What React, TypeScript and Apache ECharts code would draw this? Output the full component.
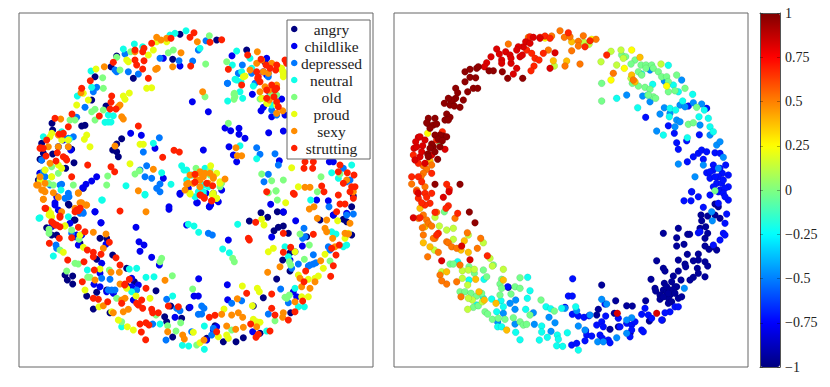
import React, { useEffect, useRef } from "react";
import * as echarts from "echarts";

type P = number[];
const lower = (pts: P[]) => pts.map((p) => [p[0], p[1] + 570, ...p.slice(2)]);

const emotions = ["angry", "childlike", "depressed", "neutral", "old", "proud", "sexy", "strutting"];
const emotionColors = ["#000080", "#0000f0", "#0078ff", "#10ffe8", "#80ff80", "#e8ff10", "#ff8c00", "#ff2000"];
const colorbarTicks = [-1, -0.75, -0.5, -0.25, 0, 0.25, 0.5, 0.75, 1];
const jetColors = ["#000080", "#0000ff", "#0080ff", "#00ffff", "#80ff80", "#ffff00", "#ff8000", "#ff0000", "#800000"];

const angry: P[] = [
  [540,103],[650,120],[350,168],[333,200],[518,178],[400,235],[285,230],[275,300],[318,318],[245,378],[255,376],[365,416],[350,432],[338,450],[350,455],[355,470],[222,488],[197,505],[156,370],[130,460],[158,462],[740,150],[795,187],[158,390],[120,478],[250,565],
  [125,480],[120,520],[115,540],[207,615],[225,660],[125,430],[215,448],
  ...lower([[1060,18],[1055,50],[1030,88],[1040,95],[1055,135],[1000,75],[960,90],[205,42],[222,90],[155,135],[240,160],[300,145],[320,145],[783,68],[803,82],[832,65],[850,67],[748,93],[850,108],[835,112],[822,122],[865,130],[920,140],[848,210],[870,188],[870,243],[830,267],[195,255],[202,270],[218,258],[218,282],[260,318],[290,307],[320,300],[280,357],[380,235],[338,195],[290,208],[468,302],[512,348],[567,353],[494,380],[500,395],[545,385],[330,368],[518,441],[645,407],[670,455],[708,455],[730,443],[790,323],[872,368],[760,348],[780,430],[620,445],[403,275],[380,287],[140,113],[170,135]]),
];
const childlike: P[] = [
  [540,198],[490,175],[577,305],[625,335],[392,400],[424,406],[465,445],[610,450],[675,384],[692,392],[717,385],[717,403],[735,415],[687,440],[700,465],[710,485],[806,398],[850,393],[838,482],[696,167],[757,283],[790,322],[783,332],[815,350],[845,297],[855,345],[800,225],[290,530],[275,543],[258,553],[248,563],[212,450],[120,520],[988,485],[1000,485],[540,583],[665,570],[490,535],[190,420],[175,440],
  [628,620],[592,608],[655,605],[565,565],[165,608],[170,590],[285,635],[303,668],[810,280],[825,288],[790,215],[800,175],
  ...lower([[285,65],[303,98],[408,112],[417,155],[432,165],[420,184],[455,202],[478,225],[507,50],[507,58],[560,105],[685,150],[596,266],[682,284],[582,318],[595,318],[683,329],[570,352],[525,382],[540,10],[590,38],[628,50],[632,45],[618,10],[640,10],[812,43],[850,65],[887,92],[815,141],[907,168],[885,185],[870,210],[950,30],[985,32],[1000,75],[1040,70],[880,305],[890,320],[318,163],[210,100],[155,110],[165,45],[235,165],[230,135],[305,220],[300,250],[282,283],[320,305],[340,310],[395,265],[415,285],[400,330],[650,410],[640,420],[620,450],[758,425],[225,140],[175,60],[245,135],[300,290],[395,290]]),
];
const depressed: P[] = [
  [375,162],[385,215],[595,150],[578,183],[537,182],[480,175],[345,210],[350,215],[415,222],[280,275],[290,262],[255,322],[230,352],[205,415],[190,415],[175,440],[205,440],[430,456],[478,413],[440,497],[420,510],[435,530],[455,535],[480,552],[470,565],[618,122],[682,250],[755,220],[715,220],[765,250],[770,443],[780,463],[825,461],[835,495],[805,523],[792,545],[1040,545],[1050,540],[150,555],[185,553],[125,480],[135,530],[805,230],[830,345],[815,330],[1030,505],
  [180,555],[205,580],[220,410],[130,515],[250,640],[195,595],[727,195],[717,220],[683,250],[805,220],
  ...lower([[207,20],[480,5],[248,65],[168,165],[170,175],[305,265],[330,268],[345,300],[325,300],[335,300],[500,328],[540,362],[530,355],[605,348],[595,373],[605,372],[725,332],[695,340],[625,130],[637,135],[912,115],[908,145],[915,140],[940,194],[930,225],[940,222],[948,218],[895,222],[875,235],[842,297],[865,338],[805,372],[987,50],[985,170],[990,180],[1040,75],[1060,72],[498,450],[635,435],[640,415],[575,425],[458,402],[612,355],[925,228],[240,70],[215,130],[410,300]]),
];
const neutral: P[] = [
  [558,92],[525,100],[510,105],[370,147],[403,132],[428,140],[600,145],[710,153],[697,195],[273,213],[232,288],[275,262],[315,367],[325,366],[333,366],[340,347],[325,345],[130,410],[208,418],[185,395],[460,430],[545,497],[560,510],[485,518],[513,553],[378,557],[435,583],[600,570],[610,555],[720,275],[683,303],[728,295],[710,240],[720,437],[770,476],[725,215],[760,258],[1055,495],[995,518],[1015,535],[615,505],[560,540],[575,525],
  [552,510],[595,575],[600,560],[610,575],[585,590],[610,585],[625,560],[120,530],[117,655],[307,600],[205,420],[183,570],[205,650],[750,175],[755,205],[705,238],[723,245],[785,295],[815,315],
  ...lower([[305,30],[435,15],[120,83],[160,198],[262,240],[388,237],[410,235],[438,262],[462,260],[518,318],[480,402],[613,408],[547,466],[566,468],[613,478],[800,423],[565,103],[582,108],[596,127],[713,103],[668,177],[688,188],[855,170],[865,200],[932,30],[995,125],[1008,132],[885,295],[895,350],[913,350],[395,305],[365,410],[1030,170],[1040,165]]),
];
const old: P[] = [
  [628,107],[617,192],[520,150],[505,158],[392,155],[350,172],[360,210],[308,233],[310,265],[615,290],[702,283],[702,298],[680,185],[685,370],[780,297],[812,285],[225,360],[210,360],[275,335],[285,328],[310,330],[285,360],[175,520],[155,500],[405,522],[418,512],[323,528],[320,555],[630,510],[660,560],[785,522],[815,542],[850,540],[828,572],[963,530],[952,575],[1020,522],
  [588,505],[630,525],[665,550],[155,530],[160,555],[145,550],[135,510],[220,555],[703,280],[705,290],[830,285],
  ...lower([[147,118],[147,130],[215,120],[237,148],[180,180],[225,220],[235,222],[200,243],[263,262],[270,262],[328,240],[517,257],[578,297],[350,325],[485,205],[480,215],[698,205],[703,215],[542,398],[503,407],[528,423],[590,465],[468,375],[900,132],[928,165],[913,208],[990,213],[868,215],[872,225],[868,315],[860,325],[855,322],[825,392],[695,420],[805,8],[828,3],[832,30],[365,395]]),
];
const proud: P[] = [
  [500,125],[470,125],[445,165],[460,150],[440,265],[455,263],[380,180],[385,185],[370,288],[375,298],[388,279],[288,207],[250,280],[265,300],[230,315],[260,405],[253,418],[270,440],[420,433],[430,433],[390,491],[875,503],[895,560],[850,215],[735,228],[845,205],[800,310],[785,295],[650,520],[155,400],[150,410],[185,420],[135,510],[155,530],[120,540],[660,545],
  [632,497],[570,580],[650,595],[640,580],[660,550],[175,495],[185,505],[145,630],[155,650],[195,678],[205,420],[845,210],[850,222],[835,200],[730,230],[803,310],[850,230],[830,315],
  ...lower([[147,75],[152,70],[195,107],[190,187],[300,237],[255,300],[380,295],[408,318],[450,325],[335,365],[355,390],[382,410],[400,420],[297,350],[580,427],[600,458],[680,435],[685,445],[655,440],[772,295],[778,305],[727,288],[757,347],[672,357],[805,185],[820,175],[785,88],[792,105],[857,38],[1013,92],[1035,145],[975,193],[970,235],[955,258],[945,265],[925,268],[895,255],[885,185],[925,320],[905,320],[770,395],[760,388],[780,397],[570,12],[650,25],[637,15],[250,172],[240,135],[1045,130]]),
];
const sexy: P[] = [
  [470,112],[483,120],[500,115],[592,125],[405,155],[543,158],[472,205],[467,208],[518,200],[313,200],[243,278],[360,315],[355,320],[365,350],[370,357],[182,357],[150,490],[145,440],[205,440],[345,438],[708,443],[712,467],[725,467],[772,155],[770,190],[790,215],[750,210],[795,260],[808,270],[815,190],[808,300],[848,332],[608,275],[460,508],[600,520],[570,525],[590,540],[610,530],[630,520],[640,535],[675,537],[565,550],[600,560],[560,553],[625,550],[120,530],[110,555],[125,570],[160,578],[235,578],[915,562],[930,562],[1060,575],[1040,540],
  [585,525],[600,515],[600,540],[580,550],[555,570],[640,530],[615,520],[115,555],[130,570],[135,550],[130,598],[175,405],[175,440],[185,635],[240,608],[260,615],[785,180],[805,220],[780,275],[830,255],[830,340],
  ...lower([[130,28],[135,5],[175,22],[235,10],[415,2],[438,65],[258,45],[245,38],[225,55],[280,127],[318,132],[310,175],[333,247],[358,247],[285,270],[360,282],[495,271],[375,325],[365,330],[385,358],[370,365],[340,368],[310,347],[503,425],[548,435],[553,447],[612,450],[665,373],[695,375],[715,368],[728,382],[680,408],[707,418],[730,412],[770,410],[712,326],[803,247],[840,230],[905,290],[930,295],[945,275],[900,265],[885,335],[850,368],[848,382],[952,85],[975,115],[980,125],[980,90],[998,145],[1045,132],[1005,170],[1035,130],[928,57],[942,50],[962,212],[1050,100]]),
];
const strutting: P[] = [
  [665,119],[630,127],[582,98],[570,112],[513,115],[455,130],[432,145],[428,155],[405,150],[340,187],[405,180],[410,195],[432,182],[428,207],[445,235],[572,198],[271,242],[245,265],[335,288],[333,307],[330,327],[348,327],[298,348],[216,342],[165,355],[205,380],[188,402],[178,402],[122,443],[130,445],[172,458],[138,468],[168,483],[190,470],[197,475],[215,530],[263,495],[333,500],[344,515],[415,378],[488,472],[522,451],[538,456],[725,255],[743,165],[783,178],[770,215],[775,230],[780,245],[800,270],[815,255],[830,265],[822,290],[830,305],[835,320],[855,180],[830,195],[912,505],[938,505],[915,485],[940,485],[1020,495],[1015,515],[1042,518],[1062,525],[965,558],[1030,550],[1055,560],[1065,560],[1050,575],[880,580],[800,575],
  [585,523],[585,547],[620,550],[638,557],[602,585],[613,595],[635,602],[120,445],[140,420],[200,480],[190,400],[137,625],[230,630],[240,625],[180,652],[160,670],[170,675],[685,208],[773,235],[798,195],[810,205],[827,210],[825,270],[800,295],[860,190],
  ...lower([[360,63],[155,95],[165,105],[180,110],[235,112],[255,125],[215,143],[178,145],[328,157],[148,160],[262,180],[280,187],[280,200],[303,193],[348,203],[360,225],[252,215],[203,210],[283,240],[247,275],[374,285],[388,268],[375,282],[438,295],[415,345],[425,330],[410,340],[365,340],[428,355],[455,358],[458,368],[475,368],[505,348],[535,350],[628,382],[645,376],[650,425],[420,402],[438,398],[447,405],[424,426],[437,449],[280,325],[295,328],[323,335],[745,145],[748,150],[850,130],[940,133],[767,97],[850,187],[872,172],[912,275],[917,243],[1000,227],[992,259],[1008,195],[1018,165],[995,175],[1010,65],[1020,42],[1035,42],[1060,25],[883,13],[1015,15],[972,5],[815,312],[740,310],[815,355],[825,375],[865,390],[885,365],[908,333],[752,402],[775,433],[768,442],[810,423],[612,22],[635,32],[600,15],[225,65],[235,62],[240,55],[135,55],[180,78]]),
];
const emotionPoints = [angry, childlike, depressed, neutral, old, proud, sexy, strutting];

// Right plot, one list per colour band, drawn with the band's reading on the colour scale.
const bandNavy: P[] = [
  ...lower([[990,42],[1000,50],[948,75],[968,78],[950,92],[990,75],[1005,85],[880,115],[835,130],[875,143],[908,133],[914,133],[945,115],[962,110],[968,130],[875,168],[897,163],[960,145],[960,168],[972,178],[985,170],[995,180],[940,192],[907,193],[880,210],[815,212],[835,235],[840,243],[880,243],[960,215],[968,228],[940,210],[925,212],[900,222],[902,230],[937,235],[940,250],[960,260],[925,262],[915,270],[888,270],[865,258],[860,275],[838,280],[798,268],[810,295],[812,303],[835,300],[825,315],[845,305],[875,290],[855,315],[870,290],[880,325],[890,320],[850,325],[825,328],[850,340],[860,335],[650,285],[692,332],[725,347],[742,348],[782,332],[688,370],[640,358],[635,375],[675,418],[700,410],[735,430],[793,393],[832,390],[370,292],[845,290],[855,300],[835,320],[865,300],[850,310],[870,310]]),
];
const bandBlue: P[] = [
  [782,352],[850,377],[868,400],[875,428],[905,422],[943,404],[880,448],[925,470],[940,460],[950,450],[965,455],[990,458],[1005,460],[907,485],[955,478],[985,495],[1022,495],[965,518],[1012,520],[1030,525],[975,535],[1000,530],[995,550],[1010,550],[1030,560],[920,575],[1005,570],[985,560],[965,325],[910,318],
  [985,510],[1005,505],[990,530],[1015,540],[975,515],[1020,565],[1000,575],
  ...lower([[920,5],[940,20],[955,52],[897,32],[918,32],[975,15],[1015,10],[1030,30],[1020,20],[1000,40],[1025,72],[1020,100],[1015,130],[1020,135],[1005,150],[985,165],[940,128],[945,125],[563,266],[550,318],[562,318],[540,352],[562,373],[580,378],[597,382],[612,377],[660,342],[602,422],[605,435],[620,438],[600,452],[560,465],[575,460],[645,435],[652,445],[670,450],[675,458],[635,405],[650,395],[662,378],[655,410],[700,385],[705,410],[725,400],[740,405],[740,420],[750,395],[770,420],[775,425],[735,440],[780,355],[770,373],[790,375],[800,385],[855,365],[840,368],[870,350],[880,350],[830,390],[368,290]]),
];
const bandAzure: P[] = [
  [795,210],[890,240],[838,243],[725,285],[773,288],[795,305],[838,323],[855,340],[825,342],[885,315],[900,320],[925,308],[950,312],[875,360],[885,365],[870,380],[815,393],[975,405],[995,435],[880,492],[930,530],[1015,472],[1005,425],[945,375],[955,495],[1000,505],
  ...lower([[980,65],[982,92],[898,295],[650,328],[665,342],[575,362],[615,375],[740,383],[725,390],[725,430],[695,443],[638,455],[655,455],[580,408],[600,420],[498,424],[510,398],[492,382],[448,403],[392,330],[390,358],[375,340],[355,370],[338,396],[390,402],[445,368],[540,355]]),
];
const bandCyan: P[] = [
  [850,196],[770,222],[803,253],[865,255],[880,275],[788,285],[855,325],[872,330],[893,303],[923,283],[958,330],[942,350],[970,355],[853,350],[835,405],[907,413],[975,380],[985,395],[758,323],[695,295],
  ...lower([[218,215],[252,270],[297,268],[275,345],[295,325],[320,327],[348,332],[335,365],[355,350],[338,410],[350,410],[392,427],[405,449],[428,262],[427,325],[435,302],[422,358],[483,350],[497,356],[470,408],[470,426],[463,450],[487,442],[517,435],[520,448],[515,467],[533,469],[547,428],[572,350],[580,480],[530,355]]),
];
const bandGreen: P[] = [
  [650,250],[650,303],[710,165],[722,170],[750,180],[738,192],[768,195],[783,195],[800,195],[760,215],[783,205],[805,205],[820,215],[770,225],[830,230],[845,230],[875,225],[850,245],[742,250],[760,258],[780,262],[795,268],[805,290],[850,275],[870,272],[900,265],[935,322],[812,295],[790,285],[165,430],[910,373],[925,368],[990,572],
  ...lower([[178,65],[195,222],[205,222],[252,230],[268,250],[295,240],[325,225],[305,260],[405,263],[225,305],[240,305],[258,310],[275,318],[290,310],[265,352],[280,347],[300,365],[308,372],[322,388],[340,385],[360,388],[385,383],[405,395],[415,405],[425,403],[350,268],[345,282],[378,312],[350,295],[390,290],[405,295],[435,375],[508,363],[468,330],[345,315]]),
];
const bandLime: P[] = [
  [508,198],[597,127],[612,133],[678,154],[708,150],[648,185],[695,195],[715,175],[738,235],[828,192],
  ...lower([[150,82],[163,108],[185,120],[205,115],[205,148],[250,135],[295,158],[148,180],[315,205],[322,228],[355,238],[170,245],[232,242],[250,240],[268,238],[248,285],[232,265],[248,358],[262,330],[250,325],[292,335]]),
];
const bandYellow: P[] = [[480,114],[128,400],[845,258],[718,205],[740,150],[678,240],[620,118]];
const bandAmber: P[] = [
  [135,483],[505,182],[545,183],[560,125],[765,172],[740,225],[750,245],
  ...lower([[105,55],[120,110],[135,170],[115,158],[238,152],[250,187],[228,180],[185,245],[272,268],[282,305],[298,330],[333,340],[355,270],[365,420]]),
];
const bandOrange: P[] = [
  [525,92],[500,108],[538,112],[555,110],[595,107],[633,118],[580,124],[580,138],[560,152],[585,192],[540,198],[490,150],[115,497],[125,508],[115,520],[140,495],[108,530],[80,552],[95,570],[120,560],[685,220],[745,240],[370,132],[430,112],
  ...lower([[128,200],[100,85],[115,75],[125,90],[130,100],[140,108],[112,113],[115,135],[150,145],[145,145],[185,155],[190,158],[200,170],[215,175],[160,187],[210,85],[247,128],[287,145],[277,175],[225,225],[165,255],[185,282],[215,275],[228,320],[170,272],[155,67]]),
];
const bandEmber: P[] = [
  [425,150],[440,160],[450,175],[462,180],[475,160],[480,108],[465,112],[435,110],[550,98],[495,115],[447,198],[438,212],[665,165],[615,122],[600,140],[85,465],[100,490],[80,530],[100,530],[110,545],[140,520],[185,553],[193,568],[172,395],[155,420],
  ...lower([[95,5],[120,10],[125,22],[100,25],[135,40],[120,45],[110,38],[190,47],[183,55],[218,70],[105,83],[160,130],[155,135],[307,197],[150,67],[140,10]]),
];
const bandRed: P[] = [
  [100,412],[87,445],[95,440],[113,437],[90,480],[105,470],[140,465],[180,448],[335,147],[343,162],[362,155],[378,190],[350,180],[350,190],[405,170],[395,205],[385,222],[318,170],[305,188],[298,200],[415,140],[422,125],[435,130],[445,112],[465,115],[510,158],[495,205],[400,140],[395,150],[375,165],[378,175],[412,165],
  [92,425],[105,410],[120,420],[110,455],[120,490],
  ...lower([[85,83],[175,22],[192,5],[100,10],[255,209],[230,168],[170,212],[697,370],[815,370]]),
];
const bandMaroon: P[] = [
  [130,355],[150,355],[127,370],[145,375],[155,372],[135,385],[185,342],[195,352],[180,360],[190,360],[178,310],[195,315],[208,318],[225,322],[235,300],[212,295],[205,300],[212,265],[218,278],[248,275],[265,265],[278,265],[240,245],[255,232],[272,233],[240,215],[255,208],[275,205],[280,200],[312,212],[325,212],[352,215],[368,235],[413,235],[125,368],[175,408],[185,410],[165,405],[150,405],[160,418],[172,422],[145,440],[140,432],[158,478],[128,462],[150,553],[225,553],[198,300],[190,295],
  [135,445],[150,455],[165,440],[130,470],
  ...lower([[253,66],[270,98]]),
];
const bands: [number, P[]][] = [
  [-0.95, bandNavy], [-0.72, bandBlue], [-0.47, bandAzure], [-0.22, bandCyan], [-0.02, bandGreen], [0.13, bandLime],
  [0.25, bandYellow], [0.38, bandAmber], [0.52, bandOrange], [0.68, bandEmber], [0.82, bandRed], [0.97, bandMaroon],
];
const moodPoints = bands.flatMap(([v, pts]) => pts.map((p) => [p[0], p[1], v]));

const FONT = "Liberation Serif";
const FRAME = "#666";
const hiddenAxis = (gridIndex: number, min: number, max: number, inverse = false) => ({
  type: "value", gridIndex, min, max, inverse, show: false,
});
const barEdge = { show: true, onZero: false, lineStyle: { color: "#555", width: 1 } };

export default function App() {
  const ref = useRef<HTMLDivElement>(null);
  useEffect(() => {
    const chart = echarts.init(ref.current!, undefined, { renderer: "svg" });
    chart.setOption({
      animation: false,
      backgroundColor: "#fff",
      grid: [
        { left: 19, top: 13, width: 354, height: 354, show: true, borderColor: FRAME, borderWidth: 1, backgroundColor: "#fff" },
        { left: 394, top: 13, width: 354, height: 354, show: true, borderColor: FRAME, borderWidth: 1, backgroundColor: "#fff" },
        { left: 760, top: 13, width: 20, height: 354 },
      ],
      xAxis: [
        hiddenAxis(0, 57, 1119),
        hiddenAxis(1, 27, 1089),
        { type: "value", gridIndex: 2, position: "bottom", min: 0, max: 1, z: 10, axisLine: barEdge, axisTick: { show: false }, axisLabel: { show: false }, splitLine: { show: false } },
        { type: "value", gridIndex: 2, position: "top", min: 0, max: 1, z: 10, axisLine: barEdge, axisTick: { show: false }, axisLabel: { show: false }, splitLine: { show: false } },
      ],
      yAxis: [
        hiddenAxis(0, 39, 1101, true),
        hiddenAxis(1, 39, 1101, true),
        { type: "value", gridIndex: 2, position: "left", min: -1, max: 1, interval: 0.25, z: 10, axisLine: barEdge,
          axisTick: { inside: true, length: 3, lineStyle: { color: "rgba(0,0,0,0.3)" } }, axisLabel: { show: false }, splitLine: { show: false } },
        { type: "value", gridIndex: 2, position: "right", min: -1, max: 1, interval: 0.25, z: 10, axisLine: barEdge,
          axisTick: { inside: true, length: 3, lineStyle: { color: "rgba(0,0,0,0.3)" } }, splitLine: { show: false },
          axisLabel: { show: true, margin: 5, fontFamily: FONT, fontSize: 14, color: "#222",
            formatter: (v: number) => (colorbarTicks.includes(v) ? String(v).replace("-", "\u2212") : "") } },
      ],
      legend: {
        data: emotions.map((name) => ({ name, icon: "circle" })),
        orient: "vertical", left: 287, top: 20, padding: [1, 8, 3, 4], itemWidth: 6.5, itemHeight: 6.5, itemGap: 1, selectedMode: false,
        backgroundColor: "#fff", borderColor: "#666", borderWidth: 1, z: 6,
        formatter: (name: string) => `{c|${name}}`,
        textStyle: { fontFamily: FONT, fontSize: 15.5, color: "#222",
          rich: { c: { width: 58, height: 14, lineHeight: 14, align: "center", fontFamily: FONT, fontSize: 15.5, color: "#222" } } },
      },
      visualMap: {
        type: "continuous", seriesIndex: emotions.length, dimension: 2, min: -1, max: 1, calculable: false, hoverLink: false, realtime: false,
        left: 760, top: 13, itemWidth: 20, itemHeight: 354, padding: 0, text: null, showLabel: false,
        inRange: { color: jetColors },
      },
      series: [
        ...emotions.map((name, i) => ({
          name, type: "scatter", xAxisIndex: 0, yAxisIndex: 0, symbol: "circle", symbolSize: 7, silent: true,
          itemStyle: { color: emotionColors[i], opacity: 1 }, data: emotionPoints[i],
        })),
        {
          name: "mood", type: "scatter", xAxisIndex: 1, yAxisIndex: 1, symbol: "circle", symbolSize: 7, silent: true,
          itemStyle: { opacity: 1, borderColor: "rgba(0,0,0,0.2)", borderWidth: 0.4 }, data: moodPoints,
        },
      ],
    });
    return () => chart.dispose();
  }, []);
  return <div ref={ref} style={{ position: "absolute", left: 0, top: 0, width: 830, height: 387 }} />;
}
